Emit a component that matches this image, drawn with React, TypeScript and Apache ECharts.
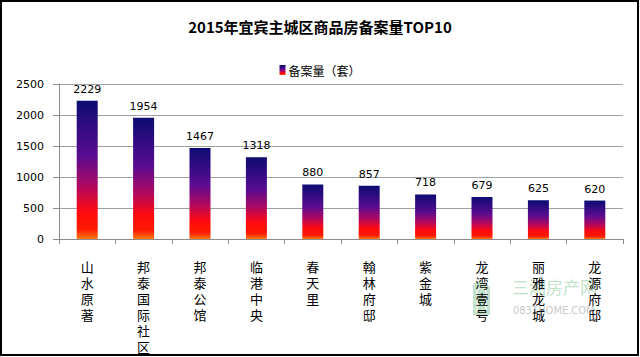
import React, { useEffect, useRef } from "react";
import * as echarts from "echarts";

const titleText = "2015年宜宾主城区商品房备案量TOP10";
const seriesName = "备案量（套）";
const categories = ["山水原著", "邦泰国际社区", "邦泰公馆", "临港中央", "春天里", "翰林府邸", "紫金城", "龙湾壹号", "丽雅龙城", "龙源府邸"];
const values = [2229, 1954, 1467, 1318, 880, 857, 718, 679, 625, 620];
const yMin = 0;
const yMax = 2500;
const yInterval = 500;

export default function App() {
  const ref = useRef<HTMLDivElement>(null);
  useEffect(() => {
    document.body.style.margin = "0";
    if (!ref.current) return;
    const chart = echarts.init(ref.current, null, { renderer: "svg" });
    const barGradient = new echarts.graphic.LinearGradient(0, 0, 0, 1, [
      { offset: 0, color: "#0c0c72" },
      { offset: 0.4, color: "#5a0c90" },
      { offset: 0.62, color: "#b00860" },
      { offset: 0.8, color: "#ff0a10" },
      { offset: 0.93, color: "#ff1a00" },
      { offset: 1, color: "#ff7a10" },
    ]);
    chart.setOption({
      animation: false,
      backgroundColor: "#ffffff",
      title: {
        text: titleText,
        left: "center",
        top: 14,
        textStyle: {
          fontFamily: "Noto Sans CJK SC",
          fontSize: 15,
          fontWeight: "bold",
          color: "#000",
        },
      },
      legend: {
        top: 59,
        left: "center",
        itemWidth: 6,
        itemHeight: 10,
        itemGap: 4,
        icon: "rect",
        textStyle: { fontFamily: "Noto Sans CJK SC", fontSize: 12, color: "#000", padding: [0, 0, 0, -2] },
        data: [seriesName],
      },
      grid: { left: 59, right: 17, top: 84, bottom: 118, containLabel: false },
      xAxis: {
        type: "category",
        data: categories,
        axisLine: { show: true, lineStyle: { color: "#8c8c8c", width: 1 } },
        axisTick: { show: true, length: 5, lineStyle: { color: "#8c8c8c" } },
        axisLabel: {
          interval: 0,
          margin: 19,
          fontFamily: "Noto Sans CJK SC",
          fontSize: 13,
          lineHeight: 16,
          color: "#000",
          verticalAlign: "top",
          formatter: (v: string) => v.split("").join("\n"),
        },
      },
      yAxis: {
        type: "value",
        min: yMin,
        max: yMax,
        interval: yInterval,
        axisLine: { show: true, lineStyle: { color: "#8c8c8c", width: 1 } },
        axisTick: { show: true, length: 6, lineStyle: { color: "#8c8c8c" } },
        splitLine: { show: true, lineStyle: { color: "#a0a0a0", width: 1 } },
        axisLabel: {
          margin: 15,
          fontFamily: "DejaVu Sans",
          fontSize: 11,
          color: "#000",
          formatter: (v: number) => String(v),
        },
      },
      series: [
        {
          name: seriesName,
          type: "bar",
          data: values,
          barWidth: 21,
          itemStyle: { color: barGradient },
          label: {
            show: true,
            position: "top",
            distance: 6,
            fontFamily: "DejaVu Sans",
            fontSize: 11,
            color: "#000",
          },
        },
      ],
      graphic: [
        {
          type: "rect",
          silent: true,
          shape: { x: 1, y: 1, width: 637, height: 354 },
          style: { fill: "none", stroke: "#000", lineWidth: 2 },
          z: 100,
        },
        {
          type: "group",
          silent: true,
          z: 50,
          children: [
            {
              type: "polygon",
              shape: { points: [[473, 284], [480, 280], [490, 287], [490, 315], [473, 315]] },
              style: { fill: "rgba(120,190,140,0.45)" },
            },
            {
              type: "polyline",
              shape: { points: [[477, 312], [477, 290], [481, 287], [486, 290], [486, 312]] },
              style: { stroke: "rgba(255,255,255,0.7)", lineWidth: 1.5, fill: "none" },
            },
            {
              type: "text",
              x: 512,
              y: 278,
              style: {
                text: "三湘房产网",
                font: "17px 'Noto Sans CJK SC'",
                fill: "rgba(110,190,130,0.45)",
              },
            },
            {
              type: "text",
              x: 513,
              y: 305,
              style: {
                text: "0831HOME.COM",
                font: "11px 'DejaVu Sans Condensed'",
                fill: "rgba(150,150,150,0.55)",
              },
            },
          ],
        },
      ],
    });
    return () => chart.dispose();
  }, []);
  return <div ref={ref} style={{ width: 640, height: 357 }} />;
}
